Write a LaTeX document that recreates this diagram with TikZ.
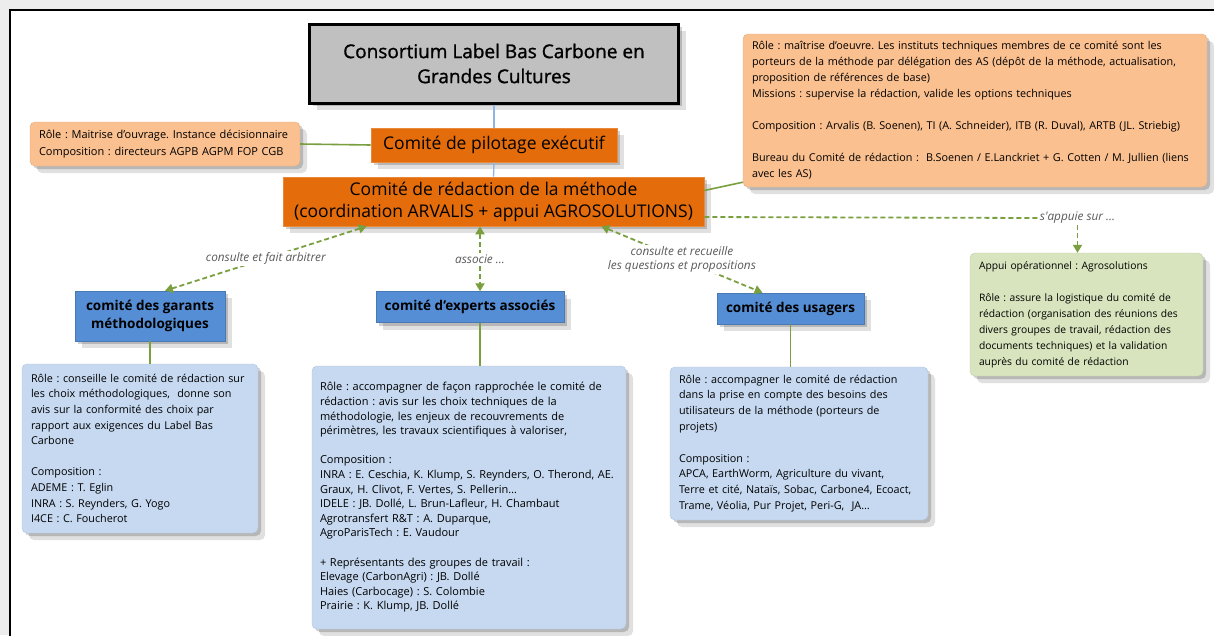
\documentclass[tikz,border=0pt]{standalone}
\usepackage{fontspec}
\setmainfont{Open Sans}
\newfontfamily\lblfont{Open Sans}
\newfontfamily\titlefont{Open Sans}[FakeBold=1.2]
\frenchspacing
\usetikzlibrary{calc,arrows.meta,shadows}
\definecolor{bgout}{HTML}{EDEDED}
\definecolor{darkor}{HTML}{E46C0A}
\definecolor{lightor}{HTML}{FAC090}
\definecolor{midblue}{HTML}{558ED5}
\definecolor{lightblue}{HTML}{C6D9F1}
\definecolor{lightgreen}{HTML}{D7E4BD}
\definecolor{gline}{HTML}{7A9F3E}
\definecolor{titlegray}{HTML}{C0C0C0}
\definecolor{bconn}{HTML}{8EB4E3}
\definecolor{lblgray}{HTML}{595959}
\tikzset{
  shad/.style={drop shadow={shadow xshift=7pt, shadow yshift=-7pt, opacity=0.12, fill=black},
               drop shadow={shadow xshift=3pt, shadow yshift=-3pt, opacity=0.18, fill=black}},
  titlebox/.style={shad, draw=black, line width=3pt, fill=titlegray, align=center,
               font=\titlefont\fontsize{19}{25}\selectfont, inner sep=0pt},
  orbox/.style={shad, draw=darkor!80!white, line width=0.6pt, fill=darkor, align=center, inner sep=0pt},
  notebox/.style={shad, rounded corners=5pt, align=left, inner xsep=9pt, inner ysep=0pt,
               font=\fontsize{11}{15.8}\selectfont},
  lorbox/.style={notebox, fill=lightor, draw=lightor!90!black, line width=0.4pt},
  lgbox/.style={notebox, fill=lightgreen, draw=lightgreen!90!black, line width=0.4pt},
  lbbox/.style={notebox, fill=lightblue, draw=lightblue!90!black, line width=0.4pt},
  bluebox/.style={shad, fill=midblue, draw=midblue!85!black, line width=0.5pt, align=center, inner sep=0pt,
               font=\bfseries\fontsize{13.5}{18}\selectfont},
  gl/.style={draw=gline, line width=1.6pt},
  bl/.style={draw=bconn, line width=1.3pt},
  dl/.style={draw=gline, line width=1.8pt, dash pattern=on 5pt off 3pt},
  tip/.tip={Triangle[length=8pt,width=9pt]},
  lbl/.style={font=\lblfont\itshape\fontsize{11.8}{14}\selectfont, text=lblgray, fill=white, inner sep=1.5pt, align=center}
}
\begin{document}
\begin{tikzpicture}[x=1pt,y=-1pt]
\useasboundingbox (0,0) rectangle (1214,635);
\fill[bgout] (0,0) rectangle (1214,635);
\fill[white] (10,10) rectangle (1214,635);
\draw[black, line width=2pt] (10,636) -- (10,10) -- (1215,10);

% main nodes
\node[titlebox, minimum width=369pt, minimum height=79pt] (title) at (494,63.5)
  {Consortium Label Bas Carbone en\\Grandes Cultures};
\node[orbox, minimum width=246pt, minimum height=34pt, font=\fontsize{17.5}{21}\selectfont] (pilot) at (494,145)
  {Comité de pilotage exécutif};
\node[orbox, minimum width=421pt, minimum height=49pt, font=\fontsize{17.5}{22}\selectfont] (redac) at (493.5,201.5)
  {Comité de rédaction de la méthode\\(coordination ARVALIS + appui AGROSOLUTIONS)};

\node[lorbox, text width=252pt, minimum height=44pt, font=\fontsize{11}{17}\selectfont] (leftor) at (165,144)
  {Rôle : Maitrise d'ouvrage. Instance décisionnaire\\Composition : directeurs AGPB AGPM FOP CGB};

\node[lorbox, text width=446pt, minimum height=153pt, font=\fontsize{10.8}{16}\selectfont] (rtor) at (975,110.5)
  {Rôle : maîtrise d'oeuvre. Les instituts techniques membres de ce comité sont les\\
   porteurs de la méthode par délégation des AS (dépôt de la méthode, actualisation,\\
   proposition de références de base)\\
   Missions : supervise la rédaction, valide les options techniques\\[16pt]
   Composition : Arvalis (B. Soenen), TI (A. Schneider), ITB (R. Duval), ARTB (JL. Striebig)\\[16pt]
   Bureau du Comité de rédaction :~ B.Soenen / E.Lanckriet + G. Cotten / M. Jullien (liens\\
   avec les AS)};

\node[lgbox, text width=215pt, minimum height=123pt, font=\fontsize{10.3}{16}\selectfont] (appui) at (1086.5,314.5)
  {Appui opérationnel : Agrosolutions\\[16pt]
   Rôle : assure la logistique du comité de\\
   rédaction (organisation des réunions des\\
   divers groupes de travail, rédaction des\\
   documents techniques) et la validation\\
   auprès du comité de rédaction};

\node[bluebox, minimum width=150pt, minimum height=50pt] (garants) at (150,316)
  {comité des garants\\méthodologiques};
\node[bluebox, minimum width=188pt, minimum height=31pt] (experts) at (470,307)
  {comité d'experts associés};
\node[bluebox, minimum width=147pt, minimum height=31pt] (usagers) at (790.5,308.5)
  {comité des usagers};

\node[lbbox, text width=218pt, minimum height=169pt, font=\fontsize{10.8}{15.6}\selectfont] (gdet) at (140,448.5)
  {Rôle : conseille le comité de rédaction sur\\
   les choix méthodologiques,~ donne son\\
   avis sur la conformité des choix par\\
   rapport aux exigences du Label Bas\\
   Carbone\\[15.6pt]
   Composition :\\
   ADEME : T. Eglin\\
   INRA : S. Reynders, G. Yogo\\
   I4CE : C. Foucherot};

\node[lbbox, inner xsep=8pt, text width=298pt, minimum height=263pt, font=\fontsize{11}{14.6}\selectfont] (edet) at (469,497.5)
  {Rôle : accompagner de façon rapprochée le comité de\\
   rédaction : avis sur les choix techniques de la\\
   méthodologie, les enjeux de recouvrements de\\
   périmètres, les travaux scientifiques à valoriser,\\[14.6pt]
   Composition :\\
   INRA : E. Ceschia, K. Klump, S. Reynders, O. Therond, AE.\\
   Graux, H. Clivot, F. Vertes, S. Pellerin…\\
   IDELE : JB. Dollé, L. Brun-Lafleur, H. Chambaut\\
   Agrotransfert R\&T : A. Duparque,\\
   AgroParisTech : E. Vaudour\\[14.6pt]
   + Représentants des groupes de travail :\\
   Elevage (CarbonAgri) : JB. Dollé\\
   Haies (Carbocage) : S. Colombie\\
   Prairie : K. Klump, JB. Dollé};

\node[lbbox, inner xsep=6pt, text width=246pt, minimum height=153pt, font=\fontsize{10.8}{15.8}\selectfont] (udet) at (799,443.5)
  {\hspace*{3pt}Rôle : accompagner le comité de rédaction\\
   \hspace*{3pt}dans la prise en compte des besoins des\\
   \hspace*{3pt}utilisateurs de la méthode (porteurs de\\
   \hspace*{3pt}projets)\\[15.8pt]
   \hspace*{3pt}Composition :\\
   \hspace*{3pt}APCA, EarthWorm, Agriculture du vivant,\\
   \hspace*{3pt}Terre et cité, Nataïs, Sobac, Carbone4, Ecoact,\\
   \hspace*{3pt}Trame, Véolia, Pur Projet, Peri-G,~ JA…};

% connectors
\draw[bl] (title.south) -- (pilot.north);
\draw[bl] (pilot.south) -- (redac.north);
\draw[gl] (leftor.east) -- (pilot.west);
\draw[gl] ($(redac.east)+(0,-11)$) -- ($(rtor.south west)+(0,-5)$);

\node[lbl, fill=none] (appuilbl) at (1077.5,218) {s'appuie sur ...};
\draw[dl] ($(redac.east)+(0,15.5)$) -- (appuilbl.west);
\draw[dl, -tip] (appuilbl.south) -- (appuilbl.south |- appui.north);

\coordinate (ga) at ($(garants.north)+(15,0)$);
\coordinate (ra) at ($(redac.south west)+(84,0)$);
\draw[dl, tip-tip] (ra) -- (ga) node[lbl, midway] {consulte et fait arbitrer};

\coordinate (ea) at ($(experts.north)+(10,0)$);
\draw[dl, tip-tip] (ea |- redac.south) -- (ea) node[lbl, midway] {associe ...};

\coordinate (ua) at ($(usagers.north)+(-28,0)$);
\coordinate (rb) at ($(redac.south east)+(-103,0)$);
\draw[dl, tip-tip] (rb) -- (ua) node[lbl, midway] {consulte et recueille\\les questions et propositions};

\draw[gl] (garants.south) -- (garants.south |- gdet.north);
\coordinate (eb) at ($(experts.south)+(10,0)$);
\draw[gl] (eb) -- (eb |- edet.north);
\draw[gl] (usagers.south) -- (usagers.south |- udet.north);
\end{tikzpicture}
\end{document}
